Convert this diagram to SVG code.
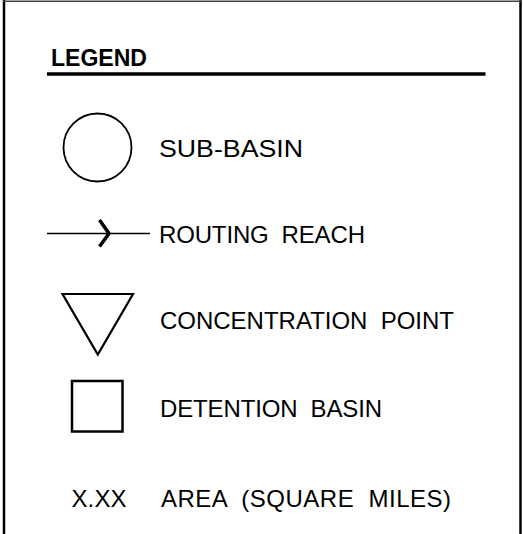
<svg xmlns="http://www.w3.org/2000/svg" width="523" height="534" viewBox="0 0 523 534">
  <style>
    .lbl { font-family: "Liberation Sans", Arial, sans-serif; font-size: 24px; fill: #000; white-space: pre; }
    .ttl { font-family: "Liberation Sans", Arial, sans-serif; font-size: 24px; font-weight: bold; fill: #000; }
    .sym { fill: none; stroke: #000; }
  </style>
  <rect width="523" height="534" fill="#fff"/>
  <g id="frame">
    <line x1="4" y1="0" x2="4" y2="534" stroke="#000" stroke-width="2.5"/>
    <line x1="520.5" y1="0" x2="520.5" y2="534" stroke="#000" stroke-width="2.5"/>
    <line x1="3" y1="1.2" x2="521" y2="1.2" stroke="#444" stroke-width="1.5"/>
  </g>
  <g id="title">
    <text class="ttl" x="51" y="65.5" textLength="96" lengthAdjust="spacingAndGlyphs">LEGEND</text>
    <line x1="47" y1="74" x2="485.5" y2="74" stroke="#000" stroke-width="3.5"/>
  </g>
  <g id="sub-basin">
    <circle class="sym" cx="97.5" cy="147.5" r="34" stroke-width="1.8"/>
    <text class="lbl" x="159" y="156.5" textLength="144" lengthAdjust="spacingAndGlyphs">SUB-BASIN</text>
  </g>
  <g id="routing-reach">
    <line class="sym" x1="47" y1="233.5" x2="150" y2="233.5" stroke-width="1.6"/>
    <polyline class="sym" points="99.5,220 109,233.5 99.5,246.5" stroke-width="3.5" stroke-linejoin="miter"/>
    <text class="lbl" x="159" y="243" textLength="206" lengthAdjust="spacing" xml:space="preserve">ROUTING  REACH</text>
  </g>
  <g id="concentration-point">
    <polygon class="sym" points="62.5,294 133,294 97.8,354.5" stroke-width="2.2"/>
    <text class="lbl" x="160" y="329" textLength="294" lengthAdjust="spacing" xml:space="preserve">CONCENTRATION  POINT</text>
  </g>
  <g id="detention-basin">
    <rect class="sym" x="72" y="381" width="50.5" height="50.5" stroke-width="2.5"/>
    <text class="lbl" x="160" y="417" textLength="222" lengthAdjust="spacing" xml:space="preserve">DETENTION  BASIN</text>
  </g>
  <g id="area">
    <text class="lbl" x="71.5" y="506.5" textLength="55" lengthAdjust="spacing">X.XX</text>
    <text class="lbl" x="161" y="506.5" textLength="290" lengthAdjust="spacing" xml:space="preserve">AREA  (SQUARE  MILES)</text>
  </g>
</svg>
